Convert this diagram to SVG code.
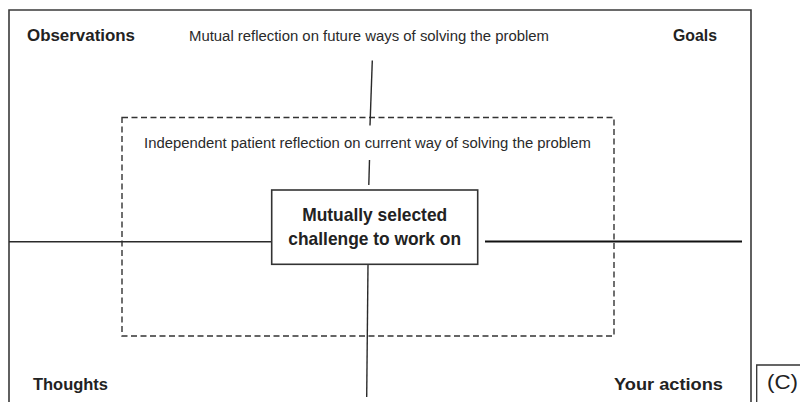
<svg xmlns="http://www.w3.org/2000/svg" width="800" height="402" viewBox="0 0 800 402">
  <style>
    .frame { fill: none; stroke: #3a3a3a; stroke-width: 1.6; }
    .dash { fill: none; stroke: #333; stroke-width: 1.4; stroke-dasharray: 6 3.5; }
    .conn { fill: none; stroke: #2a2a2a; stroke-width: 1.4; }
    .label { font-family: "Liberation Sans", Arial, sans-serif; font-weight: bold; font-size: 16.5px; fill: #222; }
    .note { font-family: "Liberation Sans", Arial, sans-serif; font-size: 14px; fill: #2a2a2a; }
    .center { font-family: "Liberation Sans", Arial, sans-serif; font-weight: bold; font-size: 19px; fill: #222; text-anchor: middle; }
    .tag { font-family: "Liberation Sans", Arial, sans-serif; font-size: 21px; fill: #222; }
  </style>
  <rect width="800" height="402" fill="#ffffff"/>

  <!-- outer frame: open at the bottom -->
  <path id="frame" class="frame" d="M9,402 V10 H751 V402"/>

  <!-- quadrant headings -->
  <g id="observations"><text class="label" x="27" y="41" textLength="108" lengthAdjust="spacingAndGlyphs">Observations</text></g>
  <g id="goals"><text class="label" x="673" y="41" textLength="44" lengthAdjust="spacingAndGlyphs">Goals</text></g>
  <g id="thoughts"><text class="label" x="33" y="390" textLength="75" lengthAdjust="spacingAndGlyphs">Thoughts</text></g>
  <g id="your-actions"><text class="label" x="614" y="390" textLength="109" lengthAdjust="spacingAndGlyphs">Your actions</text></g>

  <!-- outer reflection note -->
  <g id="mutual-reflection"><text class="note" x="189" y="41" textLength="360" lengthAdjust="spacingAndGlyphs">Mutual reflection on future ways of solving the problem</text></g>

  <!-- dashed inner region with its note -->
  <g id="independent-reflection">
    <rect class="dash" x="122" y="117.5" width="492" height="218.5"/>
    <text class="note" x="144" y="148.3" textLength="447" lengthAdjust="spacingAndGlyphs">Independent patient reflection on current way of solving the problem</text>
  </g>

  <!-- connectors -->
  <g id="connectors">
    <line class="conn" x1="372.3" y1="60.5" x2="370" y2="125.5"/>
    <line class="conn" x1="369.5" y1="160" x2="368.8" y2="185"/>
    <line class="conn" x1="368" y1="264.5" x2="366.7" y2="397"/>
    <line class="conn" x1="9" y1="241.7" x2="271.7" y2="241.7" stroke="#444"/>
    <line class="conn" x1="485" y1="241.5" x2="742" y2="241.5" style="stroke:#111;stroke-width:2"/>
  </g>

  <!-- central challenge node -->
  <g id="challenge">
    <rect x="271.7" y="190" width="206" height="74.3" fill="#fff" stroke="#333" stroke-width="1.6"/>
    <text class="center" x="374.7" y="220.7" textLength="145" lengthAdjust="spacingAndGlyphs">Mutually selected</text>
    <text class="center" x="374.7" y="245" textLength="172.7" lengthAdjust="spacingAndGlyphs">challenge to work on</text>
  </g>

  <!-- panel tag -->
  <g id="panel-tag">
    <path d="M756.7,402 V365 H800" fill="none" stroke="#333" stroke-width="1.3"/>
    <text class="tag" x="767" y="389" textLength="31" lengthAdjust="spacingAndGlyphs">(C)</text>
  </g>
</svg>
